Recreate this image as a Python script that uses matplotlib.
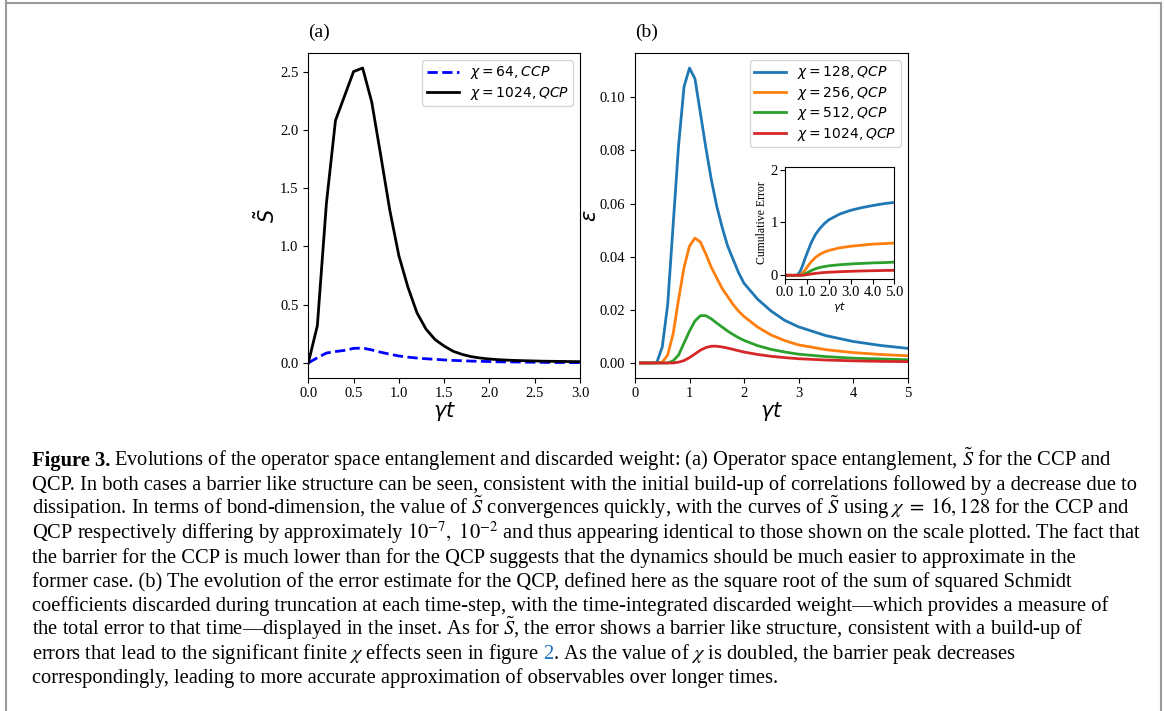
import matplotlib
matplotlib.use("Agg")
import matplotlib.pyplot as plt
from matplotlib.lines import Line2D

W, H = 1165, 711

plt.rcParams['font.family'] = 'serif'
plt.rcParams['font.serif'] = ['Liberation Serif', 'DejaVu Serif']
plt.rcParams['mathtext.fontset'] = 'dejavusans'

# ---- panel (a): operator space entanglement
t_a = [0.0, 0.1, 0.2, 0.3, 0.4, 0.5, 0.6, 0.7, 0.8, 0.9, 1.0, 1.1, 1.2, 1.3, 1.4, 1.5,
       1.6, 1.7, 1.8, 1.9, 2.0, 2.1, 2.2, 2.3, 2.4, 2.5, 2.6, 2.7, 2.8, 2.9, 3.0]
s_ccp64 = [0.0, 0.045, 0.085, 0.098, 0.108, 0.125, 0.128, 0.112, 0.092, 0.075, 0.060,
           0.050, 0.042, 0.036, 0.031, 0.026, 0.022, 0.019, 0.016, 0.014, 0.012,
           0.010, 0.009, 0.008, 0.007, 0.006, 0.005, 0.004, 0.004, 0.003, 0.003]
s_qcp1024 = [0.0, 0.32, 1.37, 2.08, 2.29, 2.50, 2.53, 2.24, 1.78, 1.31, 0.92, 0.65, 0.43,
             0.29, 0.20, 0.145, 0.10, 0.073, 0.054, 0.042, 0.034, 0.028, 0.024, 0.021,
             0.019, 0.017, 0.015, 0.014, 0.013, 0.012, 0.011]

# ---- panel (b): error estimate
t_b = [0.1, 0.2, 0.3, 0.4, 0.5, 0.6, 0.7, 0.8, 0.9, 1.0, 1.1, 1.2, 1.3, 1.4, 1.5, 1.6,
       1.7, 1.8, 1.9, 2.0, 2.25, 2.5, 2.75, 3.0, 3.5, 4.0, 4.5, 5.0]
eps_128 = [0, 0, 0, 0.0002, 0.006, 0.022, 0.052, 0.082, 0.104, 0.111, 0.107, 0.094,
           0.081, 0.069, 0.059, 0.051, 0.044, 0.039, 0.034, 0.030, 0.024, 0.0195,
           0.016, 0.0136, 0.0103, 0.0081, 0.0066, 0.0055]
eps_256 = [0, 0, 0, 0, 0.0003, 0.003, 0.011, 0.024, 0.036, 0.044, 0.047, 0.0455,
           0.041, 0.036, 0.032, 0.028, 0.025, 0.022, 0.0195, 0.0175, 0.0135, 0.0105,
           0.0084, 0.0068, 0.005, 0.0039, 0.0032, 0.0027]
eps_512 = [0, 0, 0, 0, 0, 0, 0.0008, 0.003, 0.0075, 0.012, 0.0158, 0.0178, 0.0178,
           0.0166, 0.015, 0.0135, 0.012, 0.0107, 0.0095, 0.0085, 0.0065, 0.0051,
           0.0041, 0.0033, 0.0024, 0.0018, 0.0015, 0.0012]
eps_1024 = [0, 0, 0, 0, 0, 0, 0, 0.0003, 0.0009, 0.002, 0.0034, 0.0048, 0.0058,
            0.0063, 0.0063, 0.006, 0.0056, 0.0051, 0.0046, 0.0041, 0.0032, 0.0025,
            0.002, 0.0016, 0.0011, 0.0008, 0.0006, 0.0005]

# ---- inset: cumulative error
t_in = [0, 0.5, 0.6, 0.7, 0.8, 0.9, 1.0, 1.2, 1.4, 1.6, 1.8, 2.0, 2.5, 3.0, 3.5, 4.0, 4.5, 5.0]
cum_128 = [0, 0, 0.02, 0.08, 0.18, 0.30, 0.41, 0.62, 0.78, 0.89, 0.98, 1.05, 1.16, 1.23,
           1.28, 1.32, 1.355, 1.38]
cum_256 = [0, 0, 0, 0.01, 0.04, 0.09, 0.15, 0.26, 0.34, 0.40, 0.44, 0.47, 0.52, 0.55,
           0.57, 0.59, 0.60, 0.61]
cum_512 = [0, 0, 0, 0, 0.01, 0.025, 0.045, 0.09, 0.125, 0.15, 0.165, 0.18, 0.20, 0.215,
           0.225, 0.235, 0.24, 0.25]
cum_1024 = [0, 0, 0, 0, 0, 0.005, 0.012, 0.025, 0.037, 0.046, 0.053, 0.058, 0.068,
            0.076, 0.082, 0.087, 0.091, 0.095]

chis_b = ["128", "256", "512", "1024"]
colors_b = ["#1f77b4", "#ff7f0e", "#2ca02c", "#d62728"]

caption = [
    "QCP. In both cases a barrier like structure can be seen, consistent with the initial build-up of correlations followed by a decrease due to",
    r"dissipation. In terms of bond-dimension, the value of $\tilde{S}$ convergences quickly, with the curves of $\tilde{S}$ using $\chi\;=\;16, 128$ for the CCP and",
    r"QCP respectively differing by approximately $10^{-7},\ 10^{-2}$ and thus appearing identical to those shown on the scale plotted. The fact that",
    "the barrier for the CCP is much lower than for the QCP suggests that the dynamics should be much easier to approximate in the",
    "former case. (b) The evolution of the error estimate for the QCP, defined here as the square root of the sum of squared Schmidt",
    "coefficients discarded during truncation at each time-step, with the time-integrated discarded weight\u2014which provides a measure of",
    "the total error to that time\u2014displayed in the inset. As for $\\tilde{S}$, the error shows a barrier like structure, consistent with a build-up of",
]
cap_first = r"Evolutions of the operator space entanglement and discarded weight: (a) Operator space entanglement, $\tilde{S}$ for the CCP and"
cap_l9a = r"errors that lead to the significant finite $\chi$ effects seen in figure "
cap_l9b = r". As the value of $\chi$ is doubled, the barrier peak decreases"
cap_last = "correspondingly, leading to more accurate approximation of observables over longer times."


def fx(px):
    return px / W


def fy(py):
    return 1 - py / H


fig = plt.figure(figsize=(W / 100, H / 100), dpi=100)

# page frame (open at the bottom)
for xs, ys in [([6, 6], [0, 712]), ([6, 1160.5], [3, 3]), ([1160.5, 1160.5], [3, 712])]:
    fig.add_artist(Line2D([fx(x) for x in xs], [fy(y) for y in ys], color="#9a9a9a", lw=1.5,
                          transform=fig.transFigure))

# ---- panel (a)
ax1 = fig.add_axes([fx(308.3), fy(377.7), fx(580 - 308.3), (377.7 - 53.3) / H])
ax1.plot(t_a, s_ccp64, color="blue", ls="--", lw=2, label=r"$\chi = 64, CCP$")
ax1.plot(t_a, s_qcp1024, color="black", lw=2, label=r"$\chi = 1024, QCP$")
ax1.set_xlim(0, 3)
ax1.set_xticks([0, 0.5, 1.0, 1.5, 2.0, 2.5, 3.0])
ax1.set_yticks([0, 0.5, 1.0, 1.5, 2.0, 2.5])
ax1.tick_params(labelsize=10.5)
ax1.set_xlabel(r"$\gamma t$", fontsize=15, labelpad=0)
ax1.set_ylabel(r"$\tilde{S}$", fontsize=15, labelpad=0)
ax1.legend(loc="upper right", fontsize=10, labelspacing=0.25, borderpad=0.3, handlelength=2.3)
ax1.text(0, 1.039, "(a)", transform=ax1.transAxes, fontsize=14, va="bottom", ha="left")

# ---- panel (b)
ax2 = fig.add_axes([fx(635), fy(377.7), fx(907.5 - 635), (377.7 - 53.3) / H])
for eps, chi, c in zip([eps_128, eps_256, eps_512, eps_1024], chis_b, colors_b):
    ax2.plot(t_b, eps, color=c, lw=2, label=r"$\chi = %s, QCP$" % chi)
ax2.set_xlim(0, 5)
ax2.set_xticks([0, 1, 2, 3, 4, 5])
ax2.set_yticks([0, 0.02, 0.04, 0.06, 0.08, 0.10])
ax2.set_yticklabels(["0.00", "0.02", "0.04", "0.06", "0.08", "0.10"])
ax2.tick_params(labelsize=10.5)
ax2.set_xlabel(r"$\gamma t$", fontsize=15, labelpad=0)
ax2.set_ylabel(r"$\epsilon$", fontsize=15, labelpad=-1)
ax2.legend(loc="upper right", fontsize=10, labelspacing=0.25, borderpad=0.3, handlelength=2.3)
ax2.text(0, 1.039, "(b)", transform=ax2.transAxes, fontsize=14, va="bottom", ha="left")

# ---- inset
ax3 = fig.add_axes([fx(785), fy(279), fx(894.5 - 785), (279 - 167) / H])
for cum, c in zip([cum_128, cum_256, cum_512, cum_1024], colors_b):
    ax3.plot(t_in, cum, color=c, lw=2)
ax3.set_xlim(0, 5)
ax3.set_ylim(-0.07, 2.05)
ax3.set_xticks([0, 1, 2, 3, 4, 5])
ax3.set_xticklabels(["0.0", "1.0", "2.0", "3.0", "4.0", "5.0"])
ax3.set_yticks([0, 1, 2])
ax3.tick_params(labelsize=10.5, pad=1.5)
ax3.set_xlabel(r"$\gamma t$", fontsize=8, labelpad=1)
ax3.set_ylabel("Cumulative Error", fontsize=8.5, labelpad=2)

# ---- caption
cap_size = 14.8
x0 = 32
base0 = 466
step = 24.15
renderer = fig.canvas.get_renderer()

bold = fig.text(fx(x0), fy(base0), "Figure 3.", fontsize=cap_size, fontweight="bold", va="baseline")
wb = bold.get_window_extent(renderer).width
fig.text(fx(x0 + wb + 4), fy(base0), cap_first, fontsize=cap_size, va="baseline", math_fontfamily="stix")

for i, line in enumerate(caption):
    fig.text(fx(x0), fy(base0 + step * (i + 1)), line, fontsize=cap_size, va="baseline",
             math_fontfamily="stix")

y9 = base0 + step * 8
fig.text(fx(x0), fy(y9), cap_l9a, fontsize=cap_size, va="baseline", math_fontfamily="stix")
probe = fig.text(0, 0, cap_l9a + "2", fontsize=cap_size, va="baseline", math_fontfamily="stix")
w9 = probe.get_window_extent(renderer).width
probe.remove()
fig.text(fx(x0 + w9), fy(y9), "2", fontsize=cap_size, va="baseline", ha="right", color="#1e73be")
fig.text(fx(x0 + w9), fy(y9), cap_l9b, fontsize=cap_size, va="baseline", math_fontfamily="stix")

fig.text(fx(x0), fy(base0 + step * 9), cap_last, fontsize=cap_size, va="baseline")

fig.savefig("out.png", dpi=100)
